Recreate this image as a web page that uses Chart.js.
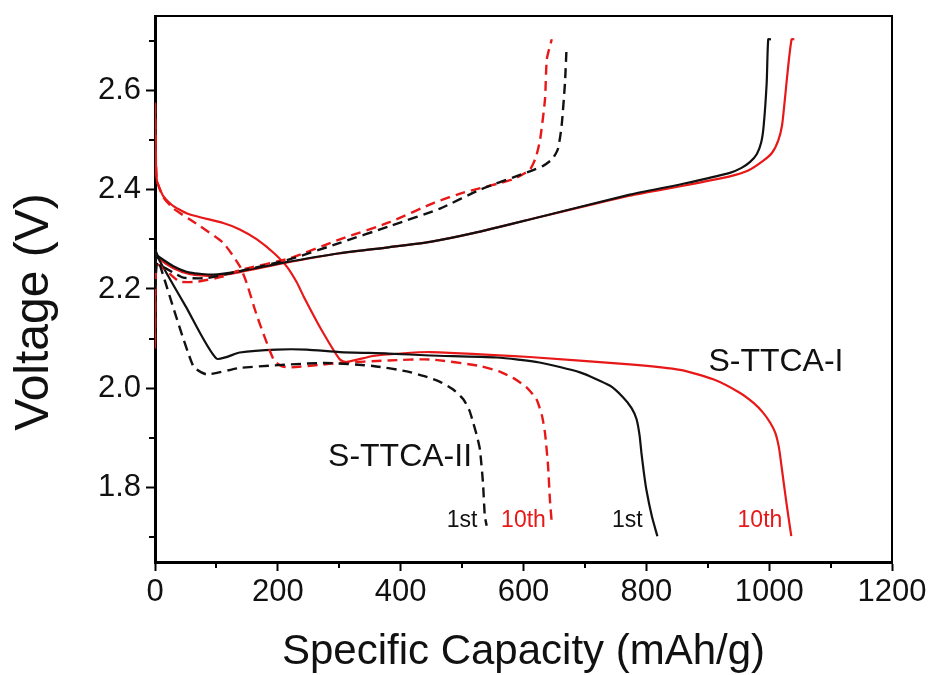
<!DOCTYPE html>
<html>
<head>
<meta charset="utf-8">
<script src="https://cdn.jsdelivr.net/npm/chart.js@4.4.1/dist/chart.umd.min.js"></script>
<style>
  html, body { margin: 0; padding: 0; background: #fff; }
  #wrap { width: 931px; height: 675px; }
</style>
</head>
<body>
<div id="wrap"><canvas id="myChart" width="931" height="675"></canvas></div>
<script>
// data: [capacity mAh/g, voltage V]
const ttcaI_1st_dis = [[0,2.28],[8,2.256],[50,2.165],[100,2.060],[138,2.072],[198,2.078],[247,2.078],[301,2.073],[380,2.070],[448,2.066],[556,2.062],[626,2.052],[692,2.032],[741,2.005],[762,1.982],[776,1.960],[784,1.938],[789,1.905],[792,1.870],[796,1.830],[800,1.796],[809,1.742],[818,1.702]];
const ttcaI_10th_dis = [[0,2.575],[1,2.50],[3,2.42],[13.5,2.387],[30,2.367],[57,2.35],[111,2.333],[138,2.32],[166,2.30],[193,2.273],[214,2.246],[231,2.213],[242,2.185],[270,2.12],[301,2.058],[312,2.053],[355,2.065],[400,2.070],[448,2.073],[610,2.063],[773,2.048],[855,2.037],[909,2.018],[952,1.991],[975,1.970],[990,1.951],[1002,1.930],[1010,1.910],[1016,1.880],[1020,1.844],[1028,1.770],[1036,1.702]];
const ttcaII_1st_dis = [[0,2.28],[5,2.26],[62,2.045],[84,2.028],[138,2.041],[274,2.051],[355,2.045],[410,2.034],[437,2.025],[464,2.013],[485,1.998],[502,1.978],[512,1.955],[518,1.931],[525,1.900],[529,1.877],[534,1.810],[537,1.743],[540,1.723]];
const ttcaII_10th_dis = [[0,2.575],[1,2.50],[3,2.42],[13.5,2.385],[30,2.362],[57,2.34],[73,2.327],[111,2.293],[138,2.246],[149,2.213],[166,2.146],[193,2.058],[205,2.045],[220,2.042],[274,2.048],[301,2.051],[380,2.056],[448,2.058],[529,2.045],[560,2.034],[583,2.021],[605,2.002],[621,1.978],[630,1.945],[635,1.910],[640,1.843],[643,1.776],[646,1.729]];

const ttcaI_1st_chg = [[0,2.20],[2,2.27],[5,2.266],[30,2.246],[57,2.233],[95,2.229],[138,2.236],[209,2.253],[301,2.272],[380,2.284],[448,2.295],[520,2.313],[610,2.34],[773,2.39],[860,2.412],[936,2.434],[955,2.444],[969,2.456],[980,2.472],[987,2.495],[991,2.528],[996,2.616],[998.5,2.703],[1003,2.703]];
const ttcaI_10th_chg = [[0,2.08],[1,2.27],[5,2.262],[30,2.242],[57,2.23],[95,2.226],[138,2.234],[209,2.252],[301,2.272],[380,2.284],[448,2.295],[520,2.313],[610,2.34],[773,2.388],[860,2.408],[936,2.427],[965,2.438],[990,2.458],[1005,2.475],[1015,2.500],[1021,2.530],[1025,2.575],[1031,2.649],[1036.6,2.703],[1041,2.703]];
const ttcaII_1st_chg = [[0,2.20],[3,2.25],[8,2.248],[30,2.233],[46,2.223],[84,2.222],[138,2.236],[220,2.26],[301,2.293],[383,2.327],[464,2.362],[529,2.40],[610,2.437],[632,2.448],[647,2.462],[656,2.482],[662,2.528],[667.5,2.615],[670,2.683]];
const ttcaII_10th_chg = [[0,2.09],[2,2.25],[20,2.235],[40,2.215],[70,2.215],[110,2.225],[138,2.238],[220,2.262],[301,2.30],[383,2.335],[455,2.374],[502,2.394],[583,2.421],[610,2.440],[620,2.465],[627,2.501],[635,2.582],[638,2.663],[646,2.703]];

const xTicks = [0, 200, 400, 600, 800, 1000, 1200];
const xMinor = [100, 300, 500, 700, 900, 1100];
const yTicks = [1.8, 2.0, 2.2, 2.4, 2.6];
const yMinor = [1.7, 1.9, 2.1, 2.3, 2.5, 2.7];

const RED = 'rgb(232,24,24)';
const BLACK = '#111';
const FONT = "'Liberation Sans', Arial, sans-serif";

// text labels placed in data coordinates
const labels = [
  {text: 'S-TTCA-I', x: 1011, y: 2.052, color: BLACK, size: 32},
  {text: 'S-TTCA-II', x: 399, y: 1.861, color: BLACK, size: 32},
  {text: '1st', x: 500, y: 1.734, color: BLACK, size: 23},
  {text: '10th', x: 600, y: 1.734, color: RED, size: 23},
  {text: '1st', x: 769, y: 1.734, color: BLACK, size: 23},
  {text: '10th', x: 985, y: 1.734, color: RED, size: 23}
];

function pts(arr) { return arr.map(([x, y]) => ({x, y})); }
function ds(arr, color, dashed) {
  return {
    data: pts(arr),
    borderColor: color,
    borderWidth: dashed ? 2.4 : 2.2,
    borderDash: dashed ? [10, 6] : [],
    pointRadius: 0,
    tension: 0.2,
    fill: false
  };
}

const decorations = {
  id: 'decorations',
  afterDraw(chart) {
    const {ctx, chartArea: a, scales: {x, y}} = chart;
    ctx.save();
    ctx.strokeStyle = '#000';
    ctx.lineWidth = 2;
    ctx.beginPath();
    ctx.moveTo(a.left, a.top);
    ctx.lineTo(a.right, a.top);
    ctx.lineTo(a.right, a.bottom);
    ctx.stroke();

    // minor ticks
    ctx.beginPath();
    xMinor.forEach(v => {
      const px = Math.round(x.getPixelForValue(v));
      ctx.moveTo(px, a.bottom);
      ctx.lineTo(px, a.bottom + 6);
    });
    yMinor.forEach(v => {
      const py = Math.round(y.getPixelForValue(v));
      ctx.moveTo(a.left, py);
      ctx.lineTo(a.left - 6, py);
    });
    ctx.stroke();

    // curve labels
    ctx.textAlign = 'center';
    ctx.textBaseline = 'middle';
    labels.forEach(l => {
      ctx.fillStyle = l.color;
      ctx.font = l.size + 'px ' + FONT;
      ctx.fillText(l.text, x.getPixelForValue(l.x), y.getPixelForValue(l.y));
    });

    // axis titles
    ctx.fillStyle = '#111';
    ctx.font = '42px ' + FONT;
    ctx.fillText('Specific Capacity (mAh/g)', (a.left + a.right) / 2, 652);
    ctx.save();
    ctx.translate(35, 312);
    ctx.rotate(-Math.PI / 2);
    ctx.font = '48px ' + FONT;
    ctx.fillText('Voltage (V)', 0, 0);
    ctx.restore();
    ctx.restore();
  }
};

const config = {
  type: 'line',
  data: {
    datasets: [
      ds(ttcaII_1st_dis, BLACK, true),
      ds(ttcaII_1st_chg, BLACK, true),
      ds(ttcaII_10th_dis, RED, true),
      ds(ttcaII_10th_chg, RED, true),
      ds(ttcaI_1st_dis, BLACK, false),
      ds(ttcaI_1st_chg, BLACK, false),
      ds(ttcaI_10th_dis, RED, false),
      ds(ttcaI_10th_chg, RED, false)
    ]
  },
  options: {
    responsive: false,
    animation: false,
    devicePixelRatio: 1,
    layout: {padding: {top: 16, right: 39, left: 0, bottom: 0}},
    plugins: {legend: {display: false}, tooltip: {enabled: false}},
    scales: {
      x: {
        type: 'linear',
        min: 0,
        max: 1200,
        afterBuildTicks: s => { s.ticks = xTicks.map(v => ({value: v})); },
        afterFit: s => { s.height = 113; s.paddingLeft = 0; s.paddingRight = 0; },
        border: {display: true, color: '#000', width: 3},
        grid: {drawOnChartArea: false, drawTicks: true, tickLength: 9, tickWidth: 2, tickColor: '#000'},
        ticks: {
          color: '#111',
          font: {family: FONT, size: 31},
          padding: 3,
          maxRotation: 0,
          autoSkip: false,
          callback: v => String(v)
        }
      },
      y: {
        type: 'linear',
        min: 1.65,
        max: 2.75,
        afterBuildTicks: s => { s.ticks = yTicks.map(v => ({value: v})); },
        afterFit: s => { s.width = 155; s.paddingTop = 0; s.paddingBottom = 0; },
        border: {display: true, color: '#000', width: 3},
        grid: {drawOnChartArea: false, drawTicks: true, tickLength: 9, tickWidth: 2, tickColor: '#000'},
        ticks: {
          color: '#111',
          font: {family: FONT, size: 31},
          padding: 5,
          autoSkip: false,
          callback: v => Number(v).toFixed(1)
        }
      }
    }
  },
  plugins: [decorations]
};

const myChart = new Chart(document.getElementById('myChart'), config);
</script>
</body>
</html>
